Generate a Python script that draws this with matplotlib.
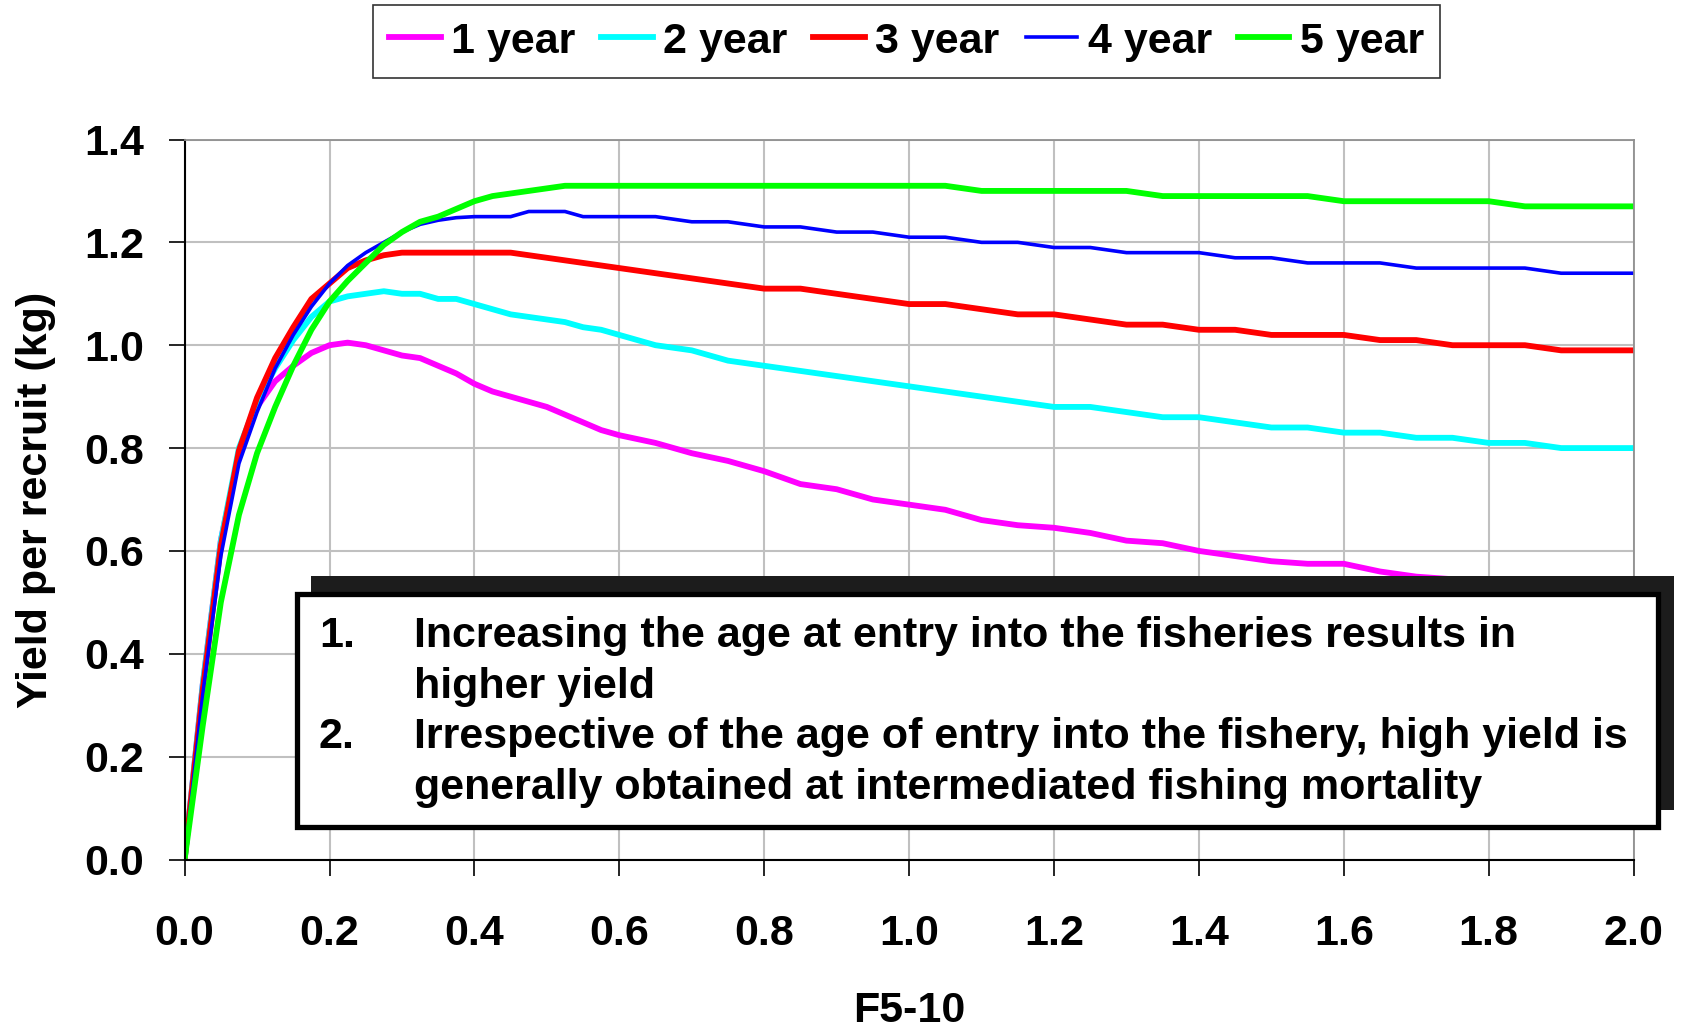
import matplotlib
matplotlib.use("Agg")
import matplotlib.pyplot as plt
from matplotlib.patches import Rectangle

plt.rcParams["font.family"] = ["Liberation Sans", "DejaVu Sans"]
plt.rcParams["font.weight"] = "bold"

# fishing mortality F5-10
f_values = [0, 0.025, 0.05, 0.075, 0.1, 0.125, 0.15, 0.175, 0.2, 0.225, 0.25, 0.275,
            0.3, 0.325, 0.35, 0.375, 0.4, 0.425, 0.45, 0.475, 0.5, 0.525, 0.55, 0.575,
            0.6, 0.65, 0.7, 0.75, 0.8, 0.85, 0.9, 0.95, 1.0, 1.05, 1.1, 1.15, 1.2,
            1.25, 1.3, 1.35, 1.4, 1.45, 1.5, 1.55, 1.6, 1.65, 1.7, 1.75, 1.8, 1.85,
            1.9, 1.95, 2.0]

ypr_1yr = [0, 0.34, 0.62, 0.79, 0.88, 0.93, 0.96, 0.985, 1.0, 1.005, 1.0, 0.99,
           0.98, 0.975, 0.96, 0.945, 0.925, 0.91, 0.9, 0.89, 0.88, 0.865, 0.85, 0.835,
           0.825, 0.81, 0.79, 0.775, 0.755, 0.73, 0.72, 0.7, 0.69, 0.68, 0.66, 0.65, 0.645,
           0.635, 0.62, 0.615, 0.6, 0.59, 0.58, 0.575, 0.575, 0.56, 0.55, 0.545, 0.54, 0.53,
           0.525, 0.52, 0.51]
ypr_2yr = [0, 0.34, 0.62, 0.8, 0.89, 0.955, 1.01, 1.055, 1.085, 1.095, 1.1, 1.105,
           1.1, 1.1, 1.09, 1.09, 1.08, 1.07, 1.06, 1.055, 1.05, 1.045, 1.035, 1.03,
           1.02, 1.0, 0.99, 0.97, 0.96, 0.95, 0.94, 0.93, 0.92, 0.91, 0.9, 0.89, 0.88,
           0.88, 0.87, 0.86, 0.86, 0.85, 0.84, 0.84, 0.83, 0.83, 0.82, 0.82, 0.81, 0.81,
           0.8, 0.8, 0.8]
ypr_3yr = [0, 0.33, 0.61, 0.795, 0.898, 0.975, 1.035, 1.09, 1.12, 1.15, 1.165, 1.175,
           1.18, 1.18, 1.18, 1.18, 1.18, 1.18, 1.18, 1.175, 1.17, 1.165, 1.16, 1.155,
           1.15, 1.14, 1.13, 1.12, 1.11, 1.11, 1.1, 1.09, 1.08, 1.08, 1.07, 1.06, 1.06,
           1.05, 1.04, 1.04, 1.03, 1.03, 1.02, 1.02, 1.02, 1.01, 1.01, 1.0, 1.0, 1.0,
           0.99, 0.99, 0.99]
ypr_4yr = [0, 0.32, 0.59, 0.77, 0.87, 0.955, 1.02, 1.075, 1.12, 1.155, 1.18, 1.2,
           1.22, 1.235, 1.243, 1.248, 1.25, 1.25, 1.25, 1.26, 1.26, 1.26, 1.25, 1.25,
           1.25, 1.25, 1.24, 1.24, 1.23, 1.23, 1.22, 1.22, 1.21, 1.21, 1.2, 1.2, 1.19,
           1.19, 1.18, 1.18, 1.18, 1.17, 1.17, 1.16, 1.16, 1.16, 1.15, 1.15, 1.15, 1.15,
           1.14, 1.14, 1.14]
ypr_5yr = [0, 0.26, 0.5, 0.67, 0.79, 0.88, 0.96, 1.03, 1.085, 1.125, 1.16, 1.195,
           1.22, 1.24, 1.25, 1.265, 1.28, 1.29, 1.295, 1.3, 1.305, 1.31, 1.31, 1.31,
           1.31, 1.31, 1.31, 1.31, 1.31, 1.31, 1.31, 1.31, 1.31, 1.31, 1.3, 1.3, 1.3,
           1.3, 1.3, 1.29, 1.29, 1.29, 1.29, 1.29, 1.28, 1.28, 1.28, 1.28, 1.28, 1.27,
           1.27, 1.27, 1.27]

series_labels = ["1 year", "2 year", "3 year", "4 year", "5 year"]
series_colors = ["#ff00ff", "#00ffff", "#ff0000", "#0000ff", "#00ff00"]
series_widths = [4.2, 4.2, 4.2, 2.6, 4.2]

notes = [
    ("1.", "Increasing the age at entry into the fisheries results in"),
    ("", "higher yield"),
    ("2.", "Irrespective of the age of entry into the fishery, high yield is"),
    ("", "generally obtained at intermediated fishing mortality"),
]

W, H = 1683, 1031
FS = 31

fig = plt.figure(figsize=(W / 100, H / 100), dpi=100)
ax = fig.add_axes([184.6 / W, 1 - 859.5 / H, 1449 / W, 720 / H])

for ys, lab, col, lw in zip([ypr_1yr, ypr_2yr, ypr_3yr, ypr_4yr, ypr_5yr],
                            series_labels, series_colors, series_widths):
    ax.plot(f_values, ys, color=col, lw=lw, label=lab, solid_joinstyle="round")

ax.set_xlim(0, 2.0)
ax.set_ylim(0, 1.4)
ax.set_xticks([i * 0.2 for i in range(11)])
ax.set_yticks([i * 0.2 for i in range(8)])
ax.xaxis.set_major_formatter(plt.FormatStrFormatter("%.1f"))
ax.yaxis.set_major_formatter(plt.FormatStrFormatter("%.1f"))
ax.tick_params(axis="both", direction="out", length=11.5, width=1.2, labelsize=FS)
ax.tick_params(axis="y", pad=17.5)
ax.tick_params(axis="x", pad=28)
ax.grid(True, color="#c0c0c0", lw=1.5)
ax.set_axisbelow(True)
for side in ["left", "bottom"]:
    ax.spines[side].set_color("black")
    ax.spines[side].set_linewidth(1.5)
for side in ["top", "right"]:
    ax.spines[side].set_color("#909090")
    ax.spines[side].set_linewidth(1.3)

ax.set_xlabel("F5-10", fontsize=FS, fontweight="bold")
ax.set_ylabel("Yield per recruit (kg)", fontsize=FS, fontweight="bold")
ax.xaxis.set_label_coords(0.5, -0.183)
ax.yaxis.set_label_coords(-0.0887, 0.5)

leg = ax.legend(loc="center", bbox_to_anchor=(906.5 / W, 1 - 41.5 / H),
                bbox_transform=fig.transFigure, ncol=5, fontsize=FS,
                frameon=True, fancybox=False, handlelength=1.2, handletextpad=0.24,
                columnspacing=0.6, borderpad=0.38, borderaxespad=0)
leg.get_frame().set_edgecolor("black")
leg.get_frame().set_linewidth(1.2)
for h, lw in zip(leg.get_lines(), series_widths):
    h.set_linewidth(lw)

# annotation box with shadow
shadow = Rectangle((311.3 / W, 1 - 810.3 / H), (1674 - 311.3) / W, (810.3 - 576.4) / H,
                   transform=fig.transFigure, facecolor="#1c1c1c", edgecolor="none",
                   zorder=5)
box = Rectangle((297.3 / W, 1 - 826.5 / H), (1658.3 - 297.3) / W, (826.5 - 593.5) / H,
                transform=fig.transFigure, facecolor="white", edgecolor="black",
                lw=3.8, zorder=6)
fig.add_artist(shadow)
fig.add_artist(box)

baselines = [647.3, 697.7, 748.3, 799.3]
for (num, txt), yb in zip(notes, baselines):
    if num:
        fig.text(318.8 / W, 1 - yb / H, num, fontsize=FS, fontweight="bold",
                 va="baseline", ha="left", zorder=7)
    fig.text(414.3 / W, 1 - yb / H, txt, fontsize=FS, fontweight="bold",
             va="baseline", ha="left", zorder=7)

fig.savefig("out.png", dpi=100)
